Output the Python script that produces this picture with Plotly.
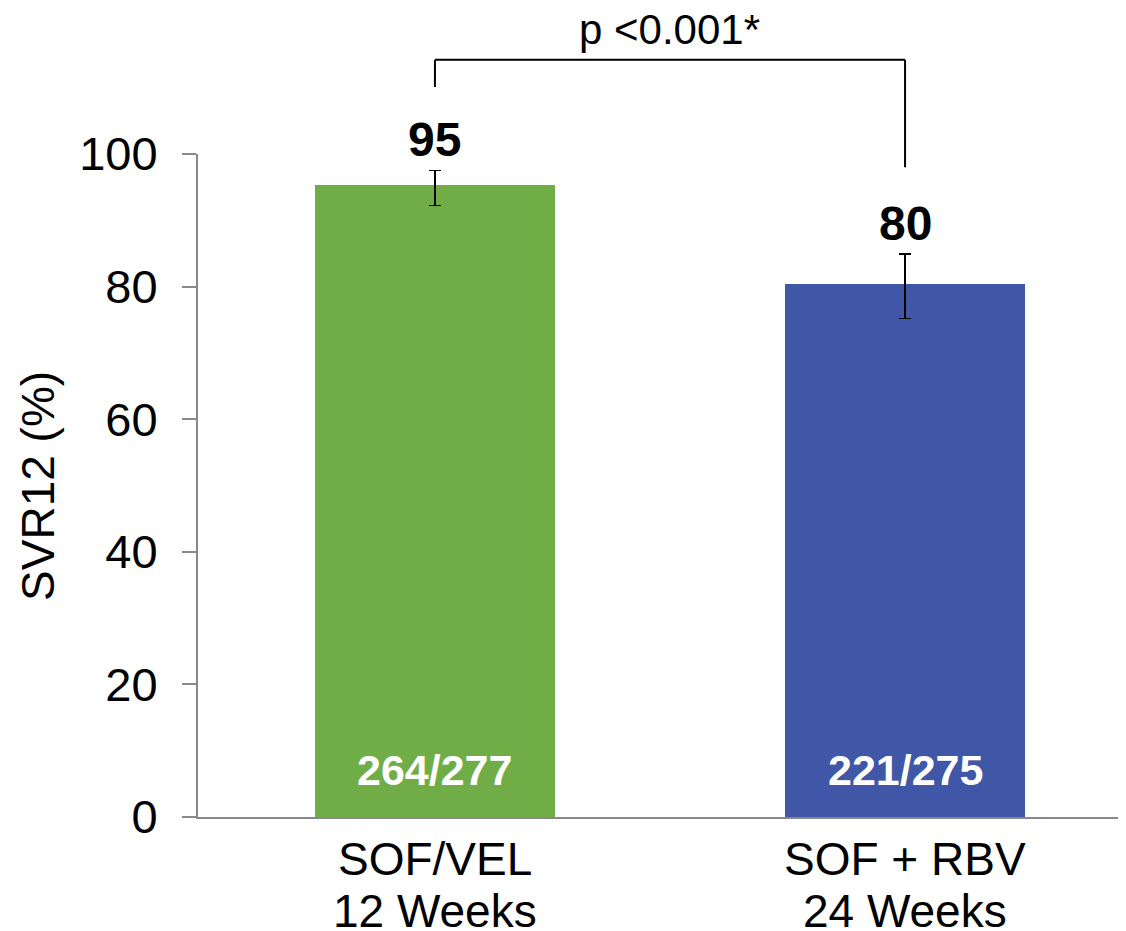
import plotly.graph_objects as go

categories = ["SOF/VEL<br>12 Weeks", "SOF + RBV<br>24 Weeks"]
cat_line1 = ["SOF/VEL", "SOF + RBV"]
cat_line2 = ["12 Weeks", "24 Weeks"]
svr = [95.3, 80.4]
ci_upper = [97.5, 84.9]
ci_lower = [92.2, 75.2]
value_labels = ["95", "80"]
count_labels = ["264/277", "221/275"]
bar_colors = ["#70AD47", "#3F57A6"]
y_ticks = [0, 20, 40, 60, 80, 100]
p_text = "p <0.001*"

FONT = "Liberation Sans, Arial, sans-serif"
AXIS_GRAY = "#898989"

err_plus = [u - v for u, v in zip(ci_upper, svr)]
err_minus = [v - l for v, l in zip(svr, ci_lower)]

fig = go.Figure()
fig.add_trace(go.Bar(
    x=categories, y=svr,
    marker=dict(color=bar_colors, line=dict(width=0)),
    width=0.51,
    error_y=dict(type="data", array=err_plus, arrayminus=err_minus,
                 color="black", thickness=1.5, width=6),
    hoverinfo="skip",
))

annotations = []
for i, cat in enumerate(categories):
    annotations.append(dict(x=cat, y=ci_upper[i], xref="x", yref="y", text=f"<b>{value_labels[i]}</b>",
                            showarrow=False, yanchor="middle", yshift=31,
                            font=dict(family=FONT, size=48, color="black")))
    annotations.append(dict(x=cat, y=0, xref="x", yref="y", text=f"<b>{count_labels[i]}</b>",
                            showarrow=False, yanchor="middle", yshift=47,
                            font=dict(family=FONT, size=43, color="white")))
    annotations.append(dict(x=cat, y=0, xref="x", yref="y", text=cat_line1[i],
                            showarrow=False, yanchor="middle", yshift=-42,
                            font=dict(family=FONT, size=46, color="black")))
    annotations.append(dict(x=cat, y=0, xref="x", yref="y", text=cat_line2[i],
                            showarrow=False, yanchor="middle", yshift=-94,
                            font=dict(family=FONT, size=46, color="black")))

# significance bracket (paper y = data/100 since y range is 0-100)
bracket_top = 114.2
left_foot = 110.1
right_foot = 98.0
shapes = [
    dict(type="line", xref="x", yref="paper", x0=categories[0], x1=categories[0],
         y0=left_foot / 100, y1=bracket_top / 100, line=dict(color="black", width=2)),
    dict(type="line", xref="x", yref="paper", x0=categories[0], x1=categories[1],
         y0=bracket_top / 100, y1=bracket_top / 100, line=dict(color="black", width=2)),
    dict(type="line", xref="x", yref="paper", x0=categories[1], x1=categories[1],
         y0=right_foot / 100, y1=bracket_top / 100, line=dict(color="black", width=2)),
]
annotations.append(dict(x=0.5, y=bracket_top / 100, xref="x", yref="paper", text=p_text,
                        showarrow=False, yanchor="middle", yshift=30,
                        font=dict(family=FONT, size=42, color="black")))

annotations.append(dict(x=-0.173, y=0.5, xref="paper", yref="paper", text="SVR12 (%)",
                        textangle=-90, showarrow=False,
                        xanchor="center", yanchor="middle",
                        font=dict(family=FONT, size=46, color="black")))

fig.update_layout(
    width=1118, height=923,
    margin=dict(l=190, r=0, t=146, b=114, pad=0),
    plot_bgcolor="white", paper_bgcolor="white",
    showlegend=False,
    bargap=0,
    xaxis=dict(
        type="category",
        range=[-0.504, 1.470],
        showticklabels=False,
        ticks="",
        showline=True, linecolor=AXIS_GRAY, linewidth=2,
        showgrid=False, zeroline=False,
    ),
    yaxis=dict(
        range=[0, 100],
        tickvals=y_ticks,
        ticks="outside", ticklen=14, tickcolor=AXIS_GRAY, tickwidth=2,
        ticklabelstandoff=15,
        showline=True, linecolor=AXIS_GRAY, linewidth=2,
        showgrid=False, zeroline=False,
        tickfont=dict(family=FONT, size=47, color="black"),
    ),
    annotations=annotations,
    shapes=shapes,
)

fig.write_html("out.html")
